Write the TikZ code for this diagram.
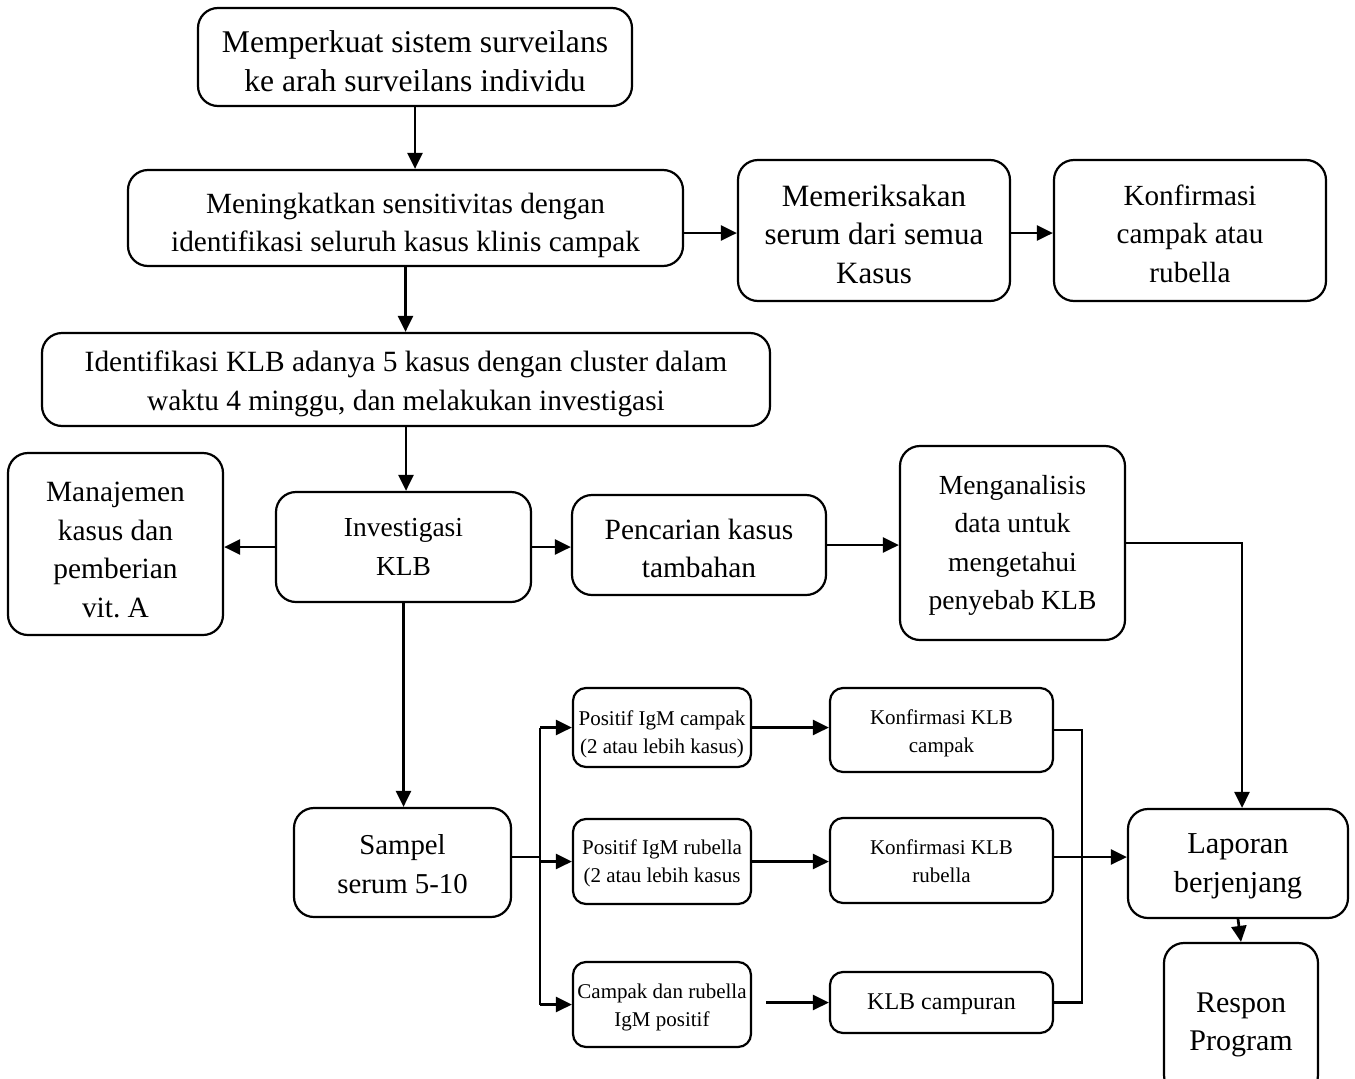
\documentclass[tikz,border=0pt]{standalone}
\usepackage{fontspec}
\setmainfont{Liberation Serif}
\usetikzlibrary{arrows.meta}
\frenchspacing
\newcommand{\smtxt}{\fontsize{21}{28}\selectfont}
\newcommand{\dn}[1]{\rule{0pt}{\dimexpr\fontcharht\font`\l+#1pt*2\relax}}
\tikzset{
  box/.style={draw, line width=2.2pt, rounded corners=20pt, align=center, inner sep=0pt, font=\fontsize{#1}{38.5}\selectfont},
  box/.default=30,
  sbox/.style={draw, line width=2.2pt, rounded corners=13pt, align=center, inner sep=0pt, font=\smtxt},
  arr/.style={-{Triangle[length=16pt,width=15pt]}, line width=2.7pt},
  ln/.style={line width=2.7pt}
}
\begin{document}
\begin{tikzpicture}[x=1pt,y=-1pt]
\useasboundingbox (0,0) rectangle (1355,1079);
\begin{scope}
\clip (0,0) rectangle (1355,1079);
\node[box=31.6, minimum width=434pt, minimum height=98pt] (n1) at (415,57) {\dn{5}Memperkuat sistem surveilans\\ke arah surveilans individu};
\node[box=29.3, minimum width=555pt, minimum height=96pt] (n2) at (405.5,218) {\dn{8}Meningkatkan sensitivitas dengan\\identifikasi seluruh kasus klinis campak};
\node[box=31, minimum width=272pt, minimum height=141pt] (n3) at (874,230.5) {\dn{4}Memeriksakan\\serum dari semua\\Kasus};
\node[box=29.2, minimum width=272pt, minimum height=141pt] (n4) at (1190,230.5) {\dn{4}Konfirmasi\\campak atau\\rubella};
\node[box=29.4, minimum width=728pt, minimum height=93pt] (n5) at (406,379.5) {\dn{5}Identifikasi KLB adanya 5 kasus dengan cluster dalam\\waktu 4 minggu, dan melakukan investigasi};
\node[box=29.4, minimum width=215pt, minimum height=182pt] (n6) at (115.5,544) {\dn{6}Manajemen\\kasus dan\\pemberian\\vit. A};
\node[box=27.5, minimum width=255pt, minimum height=110pt] (n7) at (403.5,547) {Investigasi\\KLB};
\node[box=29.4, minimum width=254pt, minimum height=100pt] (n8) at (699,545) {\dn{4}Pencarian kasus\\tambahan};
\node[box=27.6, minimum width=225pt, minimum height=194pt] (n9) at (1012.5,543) {\dn{3}Menganalisis\\data untuk\\mengetahui\\penyebab KLB};
\node[box=28.8, minimum width=217pt, minimum height=109pt] (n10) at (402.5,862.5) {\dn{2}Sampel\\serum 5-10};
\node[sbox, minimum width=178pt, minimum height=79pt] (n11) at (662,727.5) {\dn{7}Positif IgM campak\\(2 atau lebih kasus)};
\node[sbox, minimum width=223pt, minimum height=84pt] (n12) at (941.5,730) {\dn{4}Konfirmasi KLB\\campak};
\node[sbox, minimum width=178pt, minimum height=85pt] (n13) at (662,861.5) {\dn{2}Positif IgM rubella\\(2 atau lebih kasus};
\node[sbox, minimum width=223pt, minimum height=85pt] (n14) at (941.5,860.5) {\dn{1}Konfirmasi KLB\\rubella};
\node[sbox, minimum width=178pt, minimum height=85pt] (n15) at (662,1004.5) {\dn{3}Campak dan rubella\\IgM positif};
\node[sbox, minimum width=223pt, minimum height=61pt, font=\fontsize{24}{28}\selectfont] (n16) at (941.5,1002.5) {\dn{2}KLB campuran};
\node[box=30.4, minimum width=220pt, minimum height=109pt] (n17) at (1238,863.5) {\dn{3}Laporan\\berjenjang};
\node[box=30, minimum width=154pt, minimum height=152pt] (n18) at (1241,1019) {\dn{6}Respon\\Program};
\end{scope}

\draw[arr] (n1.south) -- (n1.south |- n2.north);
\draw[arr] (n2.south) -- (n2.south |- n5.north);
\draw[arr] (n2.east |- 0,233) -- (n3.west |- 0,233);
\draw[arr] (n3.east |- 0,233) -- (n4.west |- 0,233);
\draw[arr] (n5.south) -- (n5.south |- n7.north);
\draw[arr] (n7.west) -- (n7.west -| n6.east);
\draw[arr] (n7.east) -- (n7.east -| n8.west);
\draw[arr] (n8.east) -- (n8.east -| n9.west);
\draw[arr] (n9.east) -| ([xshift=4pt]n17.north);
\draw[arr] (n7.south) -- (n7.south |- n10.north);
\coordinate (j) at (540,857);
\draw[ln] (n10.east |- j) -- (j);
\draw[ln] (j |- n11.west) -- (j |- n15.west);
\draw[arr] (j |- n11.west) -- (n11.west);
\draw[arr] (j |- n13.west) -- (n13.west);
\draw[arr] (j |- n15.west) -- (n15.west);
\draw[arr] (n11.east) -- (n11.east -| n12.west);
\draw[arr] (n13.east) -- (n13.east -| n14.west);
\draw[arr] ([xshift=14pt]n15.east |- n16.west) -- (n16.west);
\coordinate (k) at (1082,857);
\draw[ln] (n12.east) -- (n12.east -| k) -- (n16.east -| k) -- (n16.east);
\draw[arr] (n14.east |- k) -- (n17.west |- k);
\draw[arr] (n17.south) -- (n18.north);
\end{tikzpicture}
\end{document}
